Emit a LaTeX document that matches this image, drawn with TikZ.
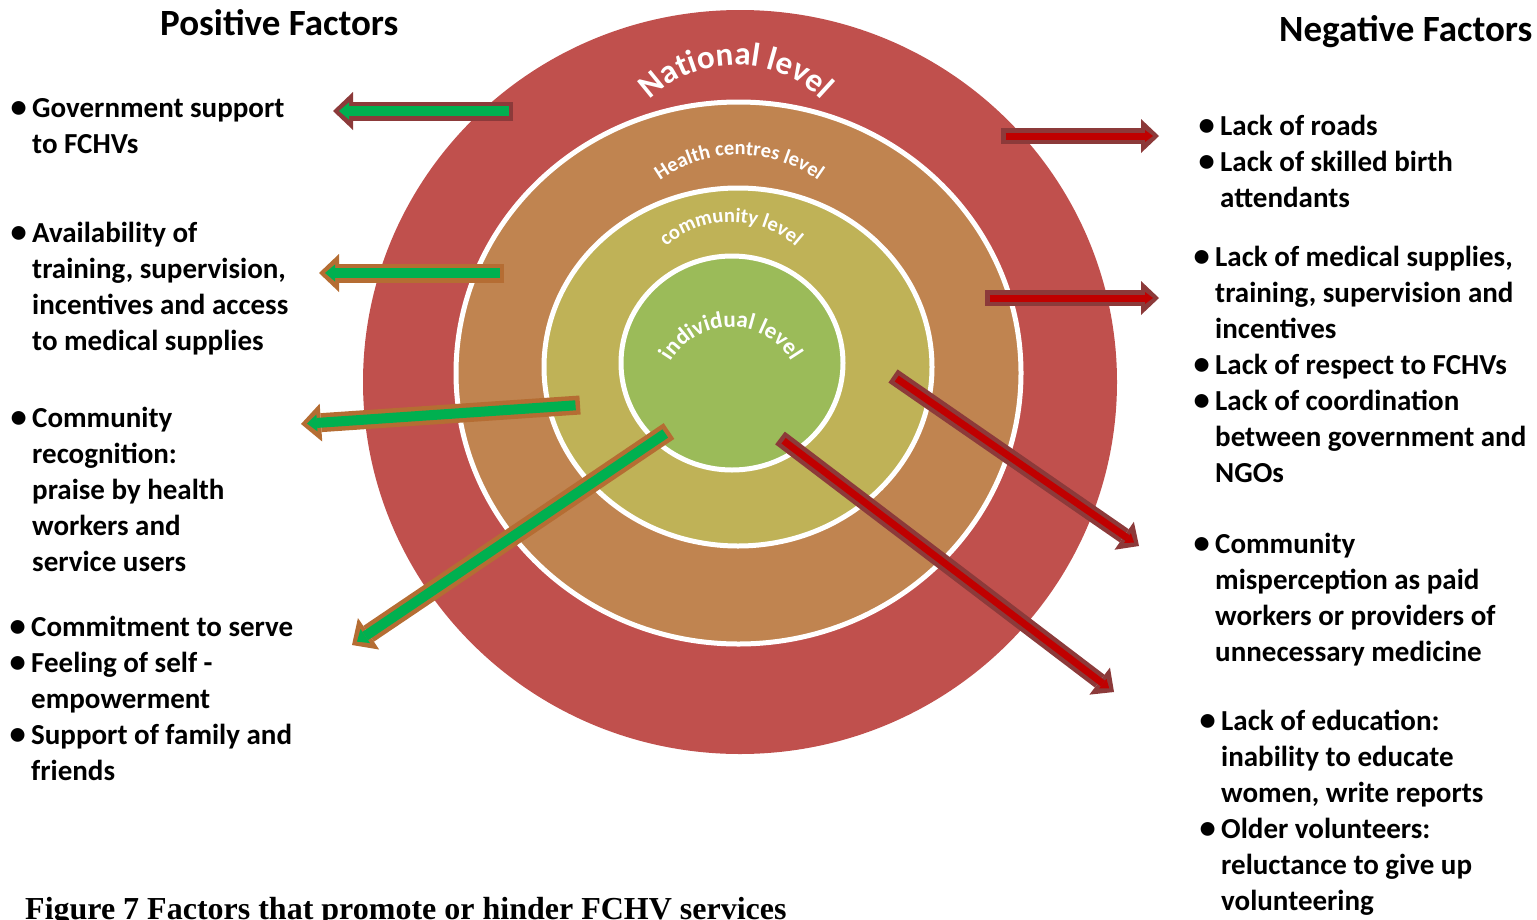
\documentclass[tikz,border=0pt]{standalone}
\usepackage{fontspec}
\setmainfont{Carlito}
\newfontfamily\capfont{Liberation Serif}
\usetikzlibrary{arrows.meta,decorations.text}
\definecolor{natred}{HTML}{C0504D}
\definecolor{hcbrown}{HTML}{C08450}
\definecolor{comolive}{HTML}{BFB257}
\definecolor{indgreen}{HTML}{9BBB59}
\definecolor{gfill}{HTML}{00B050}
\definecolor{rfill}{HTML}{C00000}
\definecolor{dborder}{HTML}{8C3A3A}
\definecolor{oborder}{HTML}{B56D33}
\newcommand{\fbul}{\llap{\raisebox{-0.8pt}{\scalebox{1.12}{\textbullet}}\hspace{5.5pt}}}
\begin{document}
\begin{tikzpicture}[x=1pt,y=-1pt]
\tikzstyle{every node}=[inner sep=0pt]
\tikzstyle{factor}=[anchor=base west,align=left,font=\bfseries\fontsize{29}{36}\selectfont]
\tikzstyle{heading}=[anchor=base west,font=\bfseries\fontsize{37}{44}\selectfont]
\tikzstyle{ring}=[fill=white,draw=white,line width=5pt]
\tikzstyle{gout}=[line width=19pt,-{Triangle[length=20pt,width=38pt,line width=0pt]}]
\tikzstyle{gin}=[gfill,line width=10pt,shorten >=6pt,shorten <=4.5pt,-{Triangle[length=10pt,width=17pt,line width=0pt]}]
\tikzstyle{rout}=[dborder,line width=16pt,-{Triangle[length=18pt,width=34pt,line width=0pt]}]
\tikzstyle{rin}=[rfill,line width=7pt,shorten >=6pt,shorten <=4.5pt,-{Triangle[length=8pt,width=12pt,line width=0pt]}]
\useasboundingbox (0,0) rectangle (1537,919);
% levels
\fill[natred] (740,382) ellipse [x radius=377, y radius=372];
\filldraw[ring,fill=hcbrown] (738.5,373) ellipse [x radius=282.5, y radius=271];
\filldraw[ring,fill=comolive] (738,367) ellipse [x radius=194, y radius=179];
\filldraw[ring,fill=indgreen] (732,363) ellipse [x radius=111, y radius=107];
\path[decorate,decoration={text along path,text align=center,text color=white,
  text={|\bfseries\fontsize{33}{33}\selectfont|National level}}]
  (736,188) ++(180:123) arc[start angle=180,end angle=360,radius=123];
\path[decorate,decoration={text along path,text align=center,text color=white,
  text={|\bfseries\fontsize{20.5}{20}\selectfont|Health centres level}}]
  (739,291) ++(180:136) arc[start angle=180,end angle=360,radius=136];
\path[decorate,decoration={text along path,text align=center,text color=white,
  text={|\bfseries\fontsize{20.5}{20}\selectfont|community level}}]
  (731,320) ++(180:98) arc[start angle=180,end angle=360,radius=98];
\path[decorate,decoration={text along path,text align=center,text color=white,
  text={|\bfseries\fontsize{23}{23}\selectfont|individual level}}]
  (731,397) ++(180:70) arc[start angle=180,end angle=360,radius=70];
% titles and factors (anchored at the last line)
\node[heading](postitle) at (160,35) {Positive Factors};
\node[heading](negtitle) at (1279,41) {Negative Factors};
\node[factor](pos1) at (32,153) {\fbul Government support\\to FCHVs};
\node[factor](pos2) at (32,350) {\fbul Availability of\\training, supervision,\\incentives and access\\to medical supplies};
\node[factor](pos3) at (32,571) {\fbul Community\\recognition:\\praise by health\\workers and\\service users};
\node[factor](pos4) at (31,780) {\fbul Commitment to serve\\\fbul Feeling of self -\\empowerment\\\fbul Support of family and\\friends};
\node[factor](neg1) at (1220,207) {\fbul Lack of roads\\\fbul Lack of skilled birth\\attendants};
\node[factor](neg2) at (1215,482) {\fbul Lack of medical supplies,\\training, supervision and\\incentives\\\fbul Lack of respect to FCHVs\\\fbul Lack of coordination\\between government and\\NGOs};
\node[factor](neg3) at (1215,661) {\fbul Community\\misperception as paid\\workers or providers of\\unnecessary medicine};
\node[factor](neg4) at (1221,910) {\fbul Lack of education:\\inability to educate\\women, write reports\\\fbul Older volunteers:\\reluctance to give up\\volunteering};
\node[anchor=base west,font=\capfont\bfseries\fontsize{32}{36}\selectfont](cap) at (25,919) {Figure 7 Factors that promote or hinder FCHV services};
% arrows
\coordinate (g1a) at (513,111); \coordinate (g1b) at (333,111);
\coordinate (g2a) at (504,273); \coordinate (g2b) at (319,273);
\coordinate (g3a) at (580,405); \coordinate (g3b) at (301,424);
\coordinate (g4a) at (669,431); \coordinate (g4b) at (352,645);
\coordinate (r1a) at (1001,136); \coordinate (r1b) at (1159,136);
\coordinate (r2a) at (985,298); \coordinate (r2b) at (1159,298);
\coordinate (r3a) at (893,376); \coordinate (r3b) at (1139,546);
\coordinate (r4a) at (780,438); \coordinate (r4b) at (1114,692);
\draw[gout,dborder] (g1a) -- (g1b);
\draw[gin] (g1a) -- (g1b);
\foreach \g in {g2,g3,g4}{
  \draw[gout,oborder] (\g a) -- (\g b);
  \draw[gin] (\g a) -- (\g b);
}
\foreach \r in {r1,r2,r3,r4}{
  \draw[rout] (\r a) -- (\r b);
  \draw[rin] (\r a) -- (\r b);
}
\end{tikzpicture}
\end{document}
